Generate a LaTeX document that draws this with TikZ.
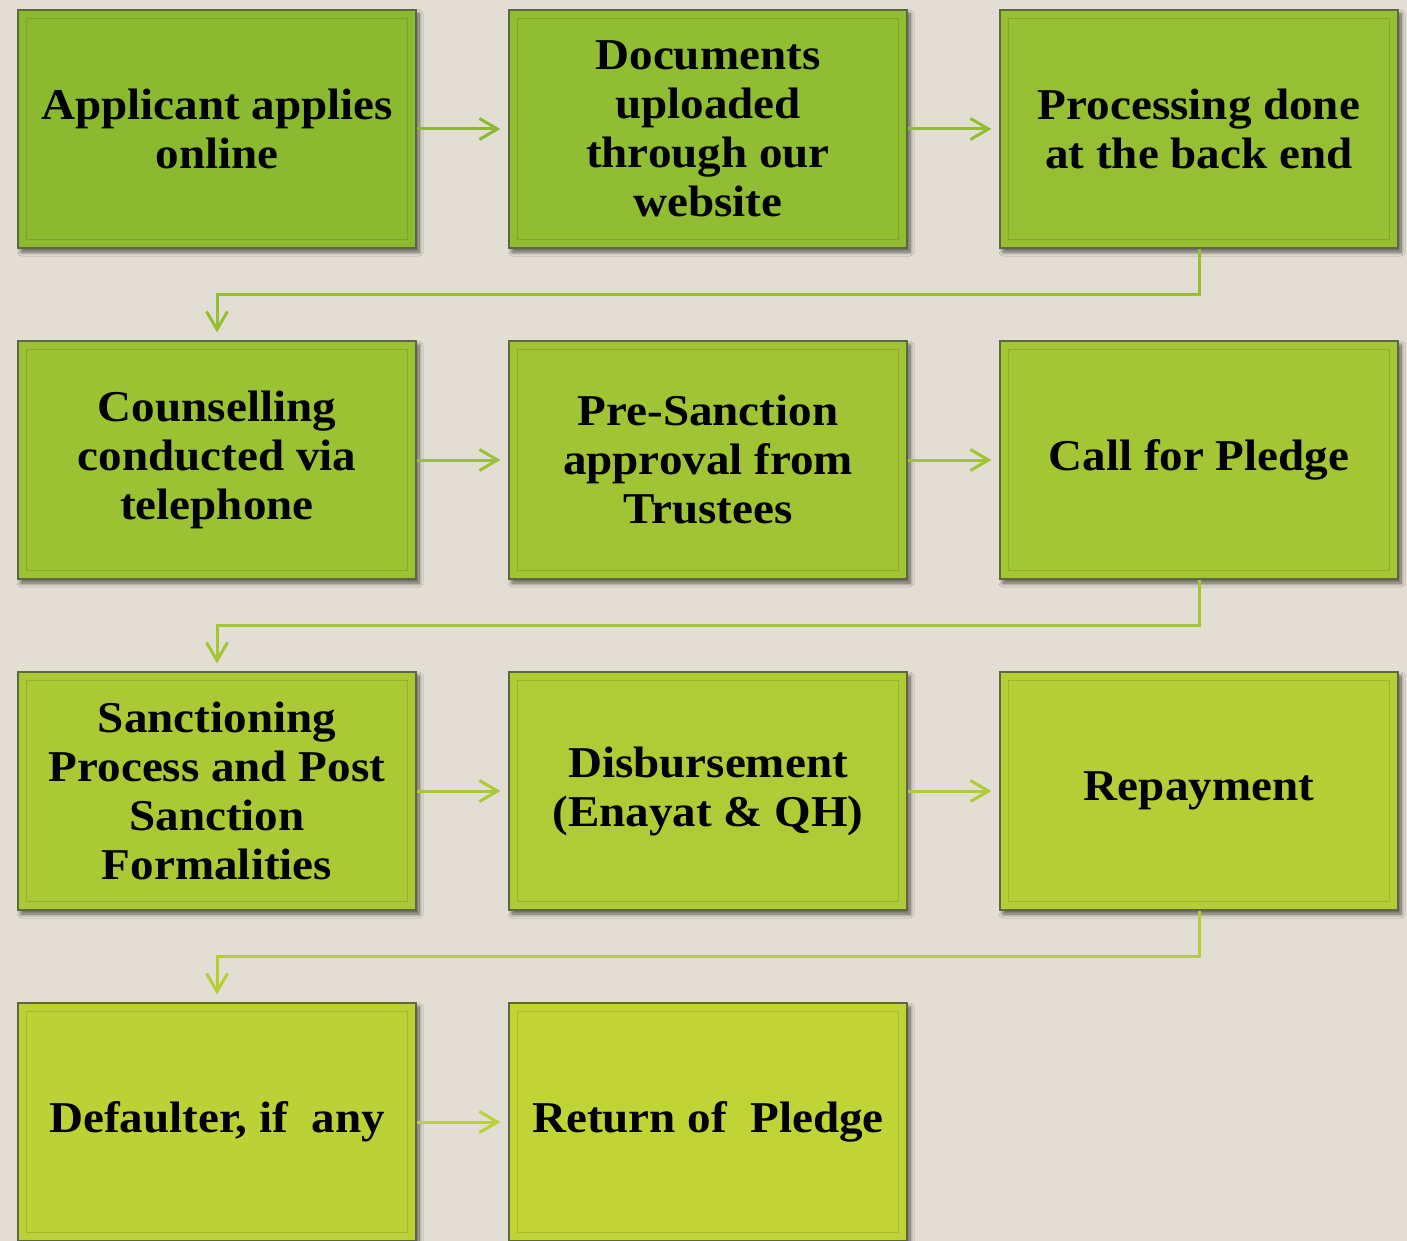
\documentclass[tikz,border=0pt]{standalone}
\usepackage{fontspec}
\setmainfont{Liberation Serif}[FakeStretch=1.07]
\usetikzlibrary{shadows.blur,arrows.meta}
\definecolor{bg}{HTML}{E3DED3}
\definecolor{edge}{HTML}{5E6840}
\definecolor{c0}{HTML}{8BBA31}
\definecolor{c1}{HTML}{91BD32}
\definecolor{c2}{HTML}{96BF33}
\definecolor{c3}{HTML}{9BC233}
\definecolor{c4}{HTML}{A0C434}
\definecolor{c5}{HTML}{A5C634}
\definecolor{c6}{HTML}{AAC935}
\definecolor{c7}{HTML}{AFCB35}
\definecolor{c8}{HTML}{B5CE35}
\definecolor{c9}{HTML}{BBD136}
\definecolor{c10}{HTML}{C1D436}
\tikzset{
  stepbox/.style={draw=edge, line width=1.2pt, fill=#1, minimum width=398pt, minimum height=238pt,
    inner sep=0pt, align=center, font=\bfseries\fontsize{44}{49}\selectfont,
    blur shadow={shadow xshift=3pt, shadow yshift=-4pt, shadow blur radius=4pt, shadow blur steps=8, shadow opacity=60}},
  conn/.style={draw=#1, line width=3pt, -{Straight Barb[length=18pt,width=21pt,line width=3pt]}},
}
\begin{document}
\begin{tikzpicture}[x=1pt,y=-1pt]
\fill[bg] (0,0) rectangle (1407,1241);
\useasboundingbox (0,0) rectangle (1407,1241);
\node[stepbox=c0] (b0) at (217,129) {Applicant applies\\online};
\node[stepbox=c1] (b1) at (708,129) {Documents\\uploaded\\through our\\website};
\node[stepbox=c2] (b2) at (1199,129) {Processing done\\at the back end};
\node[stepbox=c3] (b3) at (217,460) {Counselling\\conducted via\\telephone};
\node[stepbox=c4] (b4) at (708,460) {Pre-Sanction\\approval from\\Trustees};
\node[stepbox=c5] (b5) at (1199,460) {Call for Pledge};
\node[stepbox=c6] (b6) at (217,791) {Sanctioning\\Process and Post\\Sanction\\Formalities};
\node[stepbox=c7] (b7) at (708,791) {Disbursement\\(Enayat \& QH)};
\node[stepbox=c8] (b8) at (1199,791) {Repayment};
\node[stepbox=c9] (b9) at (217,1122) {Defaulter, if\ \ any};
\node[stepbox=c10] (b10) at (708,1122) {Return of\ \ Pledge};
\foreach \i/\c in {0/c0,1/c1,2/c2,3/c3,4/c4,5/c5,6/c6,7/c7,8/c8,9/c9,10/c10}{
  \draw[draw=\c!88!black, line width=0.8pt] ([shift={(9pt,9pt)}]b\i.south west) rectangle ([shift={(-9pt,-9pt)}]b\i.north east);
}
\coordinate (t1) at (217,294);
\coordinate (t2) at (217,625);
\coordinate (t3) at (217,956);
\draw[conn=c0] (b0.east) -- ([xshift=-8pt]b1.west);
\draw[conn=c1] (b1.east) -- ([xshift=-8pt]b2.west);
\draw[conn=c2] (b2.south) |- (t1) -- ([yshift=8pt]b3.north);
\draw[conn=c3] (b3.east) -- ([xshift=-8pt]b4.west);
\draw[conn=c4] (b4.east) -- ([xshift=-8pt]b5.west);
\draw[conn=c5] (b5.south) |- (t2) -- ([yshift=8pt]b6.north);
\draw[conn=c6] (b6.east) -- ([xshift=-8pt]b7.west);
\draw[conn=c7] (b7.east) -- ([xshift=-8pt]b8.west);
\draw[conn=c8] (b8.south) |- (t3) -- ([yshift=8pt]b9.north);
\draw[conn=c9] (b9.east) -- ([xshift=-8pt]b10.west);
\end{tikzpicture}
\end{document}
